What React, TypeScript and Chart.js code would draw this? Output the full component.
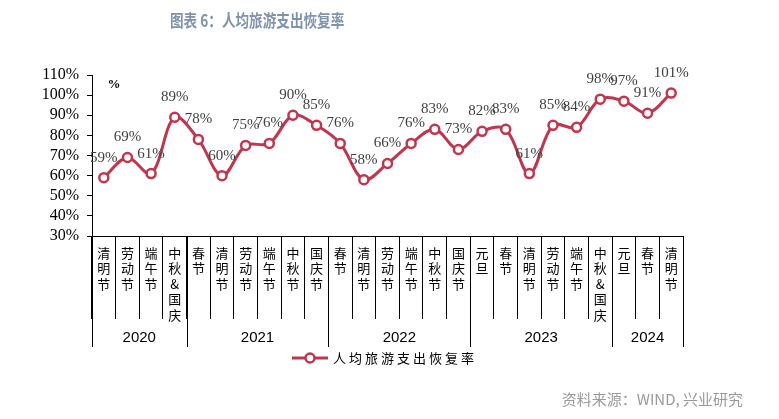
import React, { useEffect, useRef } from 'react';
import { Chart, registerables } from 'chart.js';

Chart.register(...registerables);

// ---- data ----
const holidays: string[] = [
  '清明节', '劳动节', '端午节', '中秋&国庆',
  '春节', '清明节', '劳动节', '端午节', '中秋节', '国庆节',
  '春节', '清明节', '劳动节', '端午节', '中秋节', '国庆节',
  '元旦', '春节', '清明节', '劳动节', '端午节', '中秋&国庆',
  '元旦', '春节', '清明节',
];
const years: string[] = ['2020', '2021', '2022', '2023', '2024'];
const yearCounts: number[] = [4, 6, 6, 6, 3];
const recoveryRate: number[] = [
  59, 69, 61, 89,
  78, 60, 75, 76, 90, 85,
  76, 58, 66, 76, 83, 73,
  82, 83, 61, 85, 84, 98,
  97, 91, 101,
];
const yMin = 30;
const yMax = 110;
const yStep = 10;
const seriesName = '人均旅游支出恢复率';
const titleText = '图表 6：人均旅游支出恢复率';
const sourceText = '资料来源：WIND, 兴业研究';

const LINE_COLOR = '#c0364f';
const CJK = '"Noto Sans CJK SC", "Noto Sans", sans-serif';
const SERIF = '"Liberation Serif", "DejaVu Serif", serif';

const overlayPlugin = {
  id: 'overlay',
  afterDraw(chart: any) {
    const ctx = chart.ctx as CanvasRenderingContext2D;
    const xs = chart.scales.x;
    const area = chart.chartArea;
    const meta = chart.getDatasetMeta(0);
    ctx.save();

    // data labels
    ctx.font = `15px ${SERIF}`;
    ctx.fillStyle = '#404040';
    ctx.textAlign = 'center';
    ctx.textBaseline = 'middle';
    meta.data.forEach((pt: any, i: number) => {
      ctx.fillText(recoveryRate[i] + '%', pt.x, pt.y - 20);
    });

    // unit label
    ctx.font = `bold 13px ${SERIF}`;
    ctx.fillStyle = '#000';
    ctx.fillText('%', area.left + 22, area.top + 10);

    // year separators and labels
    const boundary = (idx: number) => {
      if (idx <= 0) return xs.left;
      if (idx >= holidays.length) return xs.right;
      return (xs.getPixelForValue(idx - 1) + xs.getPixelForValue(idx)) / 2;
    };
    ctx.strokeStyle = '#000';
    ctx.lineWidth = 1;
    let start = 0;
    const bottom = area.bottom;
    ctx.font = `15px "Liberation Sans", Arial, sans-serif`;
    ctx.fillStyle = '#000';
    years.forEach((y, k) => {
      const end = start + yearCounts[k];
      const x0 = boundary(start);
      const x1 = boundary(end);
      ctx.beginPath();
      const px0 = Math.round(x0) + 0.5;
      ctx.moveTo(px0, bottom);
      ctx.lineTo(px0, bottom + 111);
      ctx.stroke();
      if (k === years.length - 1) {
        const px1 = Math.round(x1) + 0.5;
        ctx.beginPath();
        ctx.moveTo(px1, bottom);
        ctx.lineTo(px1, bottom + 111);
        ctx.stroke();
      }
      ctx.fillText(y, (x0 + x1) / 2, bottom + 102);
      start = end;
    });

    // legend
    ctx.font = `13px ${CJK}`;
    (ctx as any).letterSpacing = '3px';
    const tw = ctx.measureText(seriesName).width;
    const total = 36 + 5 + tw;
    const lx = (area.left + area.right) / 2 - total / 2 - 3;
    const ly = bottom + 122;
    ctx.strokeStyle = LINE_COLOR;
    ctx.lineWidth = 3;
    ctx.beginPath();
    ctx.moveTo(lx, ly);
    ctx.lineTo(lx + 36, ly);
    ctx.stroke();
    ctx.beginPath();
    ctx.arc(lx + 18, ly, 4.5, 0, Math.PI * 2);
    ctx.fillStyle = '#fff';
    ctx.fill();
    ctx.lineWidth = 2.5;
    ctx.stroke();
    ctx.fillStyle = '#000';
    ctx.textAlign = 'left';
    ctx.fillText(seriesName, lx + 41, ly);
    (ctx as any).letterSpacing = '0px';

    ctx.restore();
  },
};

export default function App() {
  const canvasRef = useRef<HTMLCanvasElement | null>(null);

  useEffect(() => {
    if (!canvasRef.current) return;
    const chart = new Chart(canvasRef.current, {
      type: 'line',
      data: {
        labels: holidays.map((h) => h.split('')),
        datasets: [
          {
            label: seriesName,
            data: recoveryRate,
            borderColor: LINE_COLOR,
            borderWidth: 3,
            tension: 0.35,
            pointRadius: 4.5,
            pointBorderWidth: 2.5,
            pointBackgroundColor: '#ffffff',
            pointBorderColor: LINE_COLOR,
          },
        ],
      },
      options: {
        responsive: false,
        animation: false,
        layout: { padding: { top: 75, right: 96, left: 0, bottom: 0 } },
        plugins: {
          legend: { display: false },
          title: { display: false },
          tooltip: { enabled: false },
        },
        scales: {
          x: {
            type: 'category',
            offset: true,
            afterFit: (s: any) => {
              s.height = 183;
            },
            grid: {
              offset: true,
              drawOnChartArea: false,
              drawTicks: true,
              tickLength: 83,
              color: '#000',
              lineWidth: 1,
            },
            border: { display: true, color: '#000', width: 1 },
            ticks: {
              autoSkip: false,
              maxRotation: 0,
              minRotation: 0,
              padding: -74,
              color: '#000',
              font: { family: CJK, size: 13, lineHeight: '15.5px' } as any,
            },
          },
          y: {
            min: yMin,
            max: yMax,
            afterFit: (s: any) => {
              s.width = 92;
            },
            grid: {
              drawOnChartArea: false,
              drawTicks: true,
              tickLength: 5,
              color: '#000',
            },
            border: { display: true, color: '#000', width: 1 },
            ticks: {
              stepSize: yStep,
              autoSkip: false,
              padding: 8,
              color: '#000',
              font: { family: SERIF, size: 16 },
              callback: (v: any) => v + '%',
            },
          },
        },
      },
      plugins: [overlayPlugin],
    });
    return () => chart.destroy();
  }, []);

  return (
    <div style={{ position: 'absolute', left: 0, top: 0, width: 779, height: 419, background: '#fff', overflow: 'hidden' }}>
      <canvas ref={canvasRef} width={779} height={419} style={{ position: 'absolute', left: 0, top: 0 }} />
      <div
        style={{
          position: 'absolute',
          left: 170,
          top: 8,
          fontFamily: CJK,
          fontWeight: 700,
          fontSize: 17,
          lineHeight: '24px',
          color: '#8093aa',
          whiteSpace: 'nowrap',
          transform: 'scaleX(0.8)',
          transformOrigin: 'left center',
        }}
      >
        {titleText}
      </div>
      <div
        style={{
          position: 'absolute',
          right: 36,
          top: 390,
          fontFamily: CJK,
          fontSize: 15,
          lineHeight: '18px',
          color: '#9a9a9a',
          whiteSpace: 'nowrap',
        }}
      >
        {sourceText}
      </div>
    </div>
  );
}
